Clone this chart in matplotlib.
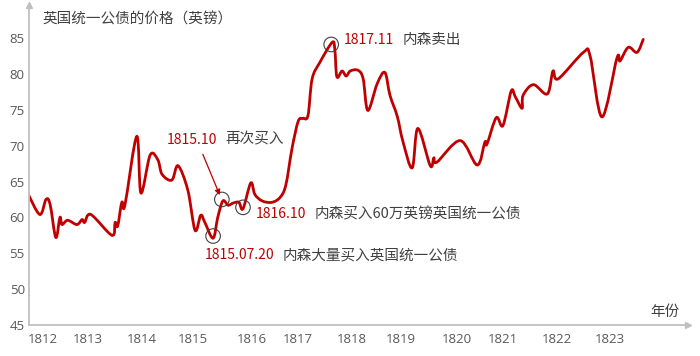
import matplotlib
matplotlib.use("Agg")
import matplotlib.pyplot as plt
import numpy as np
from matplotlib.path import Path
from matplotlib.patches import PathPatch

plt.rcParams['font.family'] = ['Noto Sans CJK SC', 'DejaVu Sans']

# consol price (pounds); x in fractional years
years = [1811.71, 1811.94, 1812.06, 1812.14, 1812.25, 1812.33, 1812.37, 1812.48,
         1812.66, 1812.76, 1812.81, 1812.93, 1813.34, 1813.40, 1813.45, 1813.53,
         1813.59, 1813.82, 1813.90, 1814.08, 1814.23, 1814.31, 1814.50, 1814.62,
         1814.81, 1814.95, 1815.06, 1815.14, 1815.30, 1815.39, 1815.49, 1815.59,
         1815.69, 1815.80, 1815.88, 1816.03, 1816.11, 1816.25, 1816.44, 1816.60,
         1816.71, 1816.83, 1816.95, 1817.04, 1817.14, 1817.22, 1817.37, 1817.61,
         1817.66, 1817.70, 1817.80, 1817.88, 1817.96, 1818.11, 1818.21, 1818.30,
         1818.48, 1818.63, 1818.73, 1818.87, 1818.98, 1819.16, 1819.27, 1819.51,
         1819.58, 1819.64, 1820.09, 1820.42, 1820.57, 1820.61, 1820.79, 1820.92,
         1821.08, 1821.16, 1821.29, 1821.31, 1821.51, 1821.78, 1821.89, 1821.99,
         1822.48, 1822.61, 1822.84, 1823.13, 1823.19, 1823.35, 1823.52, 1823.64]
price = [63.3, 60.4, 62.5, 61.8, 57.2, 60.0, 59.0, 59.6,
         59.0, 59.7, 59.3, 60.4, 57.5, 59.3, 58.8, 62.1,
         61.7, 71.3, 63.4, 68.7, 68.0, 66.0, 65.2, 67.2,
         63.8, 58.2, 60.3, 59.3, 57.1, 60.0, 62.3, 61.7,
         62.0, 62.1, 61.2, 64.8, 63.2, 62.3, 62.1, 62.8,
         64.5, 69.6, 73.4, 73.8, 74.2, 79.3, 81.6, 84.4,
         83.4, 79.6, 80.4, 79.7, 80.4, 80.5, 79.3, 74.9,
         78.6, 80.2, 77.0, 74.1, 70.6, 66.9, 72.4, 67.2,
         68.3, 67.7, 70.7, 67.3, 70.5, 70.2, 73.9, 72.8,
         77.6, 76.8, 75.2, 77.0, 78.5, 77.2, 80.4, 79.3,
         83.0, 82.5, 74.0, 82.2, 81.8, 83.7, 83.0, 84.8]

tick_pos = [1812.0, 1812.87, 1813.92, 1814.91, 1816.05, 1816.95,
            1817.99, 1818.94, 1820.03, 1820.92, 1821.97, 1823.0]
tick_labels = ['1812', '1813', '1814', '1815', '1816', '1817',
               '1818', '1819', '1820', '1821', '1822', '1823']

# marked events: circle position, red date, black note
ev_x = [1817.59, 1815.47, 1815.88, 1815.30]
ev_y = [84.1, 62.5, 61.4, 57.4]
ev_date = ['1817.11', '1815.10', '1816.10', '1815.07.20']
ev_note = ['内森卖出', '再次买入', '内森买入60万英镑英国统一公债', '内森大量买入英国统一公债']
ev_offset = [(9, 3), (-40, 43), (9, -5), (-6, -14)]

RED = '#c00000'
GREY = '#595959'
AXIS = '#bfbfbf'

fig = plt.figure(figsize=(7.0, 3.56), dpi=100)
ax = fig.add_axes([0.0414, 0.087, 0.9416, 0.899])


def smooth_path(xs, ys):
    # Catmull-Rom through the points, drawn as cubic Bezier segments
    p = np.column_stack([xs, ys])
    n = len(p)
    verts = [p[0]]
    codes = [Path.MOVETO]
    for i in range(n - 1):
        p0 = p[i - 1] if i > 0 else p[i]
        p3 = p[i + 2] if i + 2 < n else p[i + 1]
        c1 = p[i] + (p[i + 1] - p0) / 6
        c2 = p[i + 1] - (p3 - p[i]) / 6
        verts += [c1, c2, p[i + 1]]
        codes += [Path.CURVE4] * 3
    return Path(verts, codes)


ax.add_patch(PathPatch(smooth_path(years, price), facecolor='none',
                       edgecolor=RED, lw=2.0, capstyle='round', joinstyle='round'))

ax.set_xlim(1811.73, 1824.51)
ax.set_ylim(45, 89.6)
ax.set_yticks(range(45, 90, 5))
ax.set_xticks(tick_pos)
ax.set_xticklabels(tick_labels)
ax.tick_params(length=0, labelsize=9.5, labelcolor=GREY)
ax.tick_params(axis='y', pad=3)
ax.tick_params(axis='x', pad=6)
for lab in ax.get_xticklabels() + ax.get_yticklabels():
    lab.set_family(['Open Sans', 'DejaVu Sans'])

for s in ['top', 'right']:
    ax.spines[s].set_visible(False)
for s in ['left', 'bottom']:
    ax.spines[s].set_color(AXIS)
    ax.spines[s].set_linewidth(1.3)
ax.plot([0], [1], marker='^', color=AXIS, ms=4, transform=ax.transAxes, clip_on=False)
ax.plot([1], [0], marker='>', color=AXIS, ms=4, transform=ax.transAxes, clip_on=False)

ax.text(0.021, 0.956, '英国统一公债的价格（英镑）', transform=ax.transAxes,
        fontsize=10.5, color='#404040', va='center', ha='left')
ax.text(0.965, 0.04, '年份', transform=ax.transAxes,
        fontsize=10.5, color='#404040', va='center', ha='center')

ax.scatter(ev_x, ev_y, s=110, facecolors='none', edgecolors='#404040',
           linewidths=0.8, zorder=3)

for x, y, d, note, off in zip(ev_x, ev_y, ev_date, ev_note, ev_offset):
    t = ax.annotate(d, xy=(x, y), xytext=off, textcoords='offset points',
                    fontsize=10, color=RED, va='center', ha='left')
    ax.annotate(note, xy=(1, 0.5), xycoords=t, xytext=(6, 0),
                textcoords='offset points', fontsize=10.5, color='#404040',
                va='center', ha='left')

# arrow for the second purchase
ax.annotate('', xy=(1815.43, 63.1), xytext=(1815.10, 68.8),
            arrowprops=dict(arrowstyle='-|>', color=RED, lw=0.9,
                            mutation_scale=8, shrinkA=0, shrinkB=0))

fig.savefig('out.png', dpi=100)
